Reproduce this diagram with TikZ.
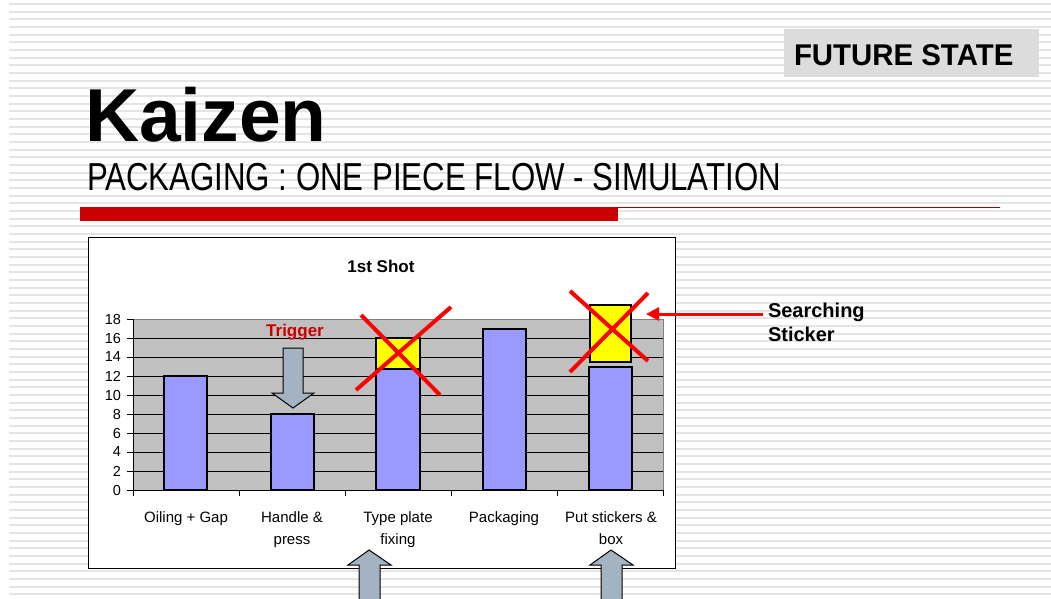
\documentclass[tikz,border=0pt]{standalone}
\usepackage{fontspec}
\setmainfont{Liberation Sans}
\newfontfamily\narrowsans[FakeStretch=0.8]{Liberation Sans}
\newfontfamily\semisans[FakeStretch=0.98]{Liberation Sans}
\usetikzlibrary{arrows.meta}

\definecolor{stripegray}{HTML}{E4E4E4}
\definecolor{barblue}{HTML}{9999FF}
\definecolor{plotgray}{HTML}{C0C0C0}
\definecolor{hiyellow}{HTML}{FFFF00}
\definecolor{rulered}{HTML}{CC0000}
\definecolor{thinred}{HTML}{A80000}
\definecolor{arrowfill}{HTML}{A3B3C2}
\definecolor{tagfill}{HTML}{DCDCDC}

\tikzset{
  stripe/.style={stripegray, line width=1.8},
  txt/.style={inner sep=0pt, outer sep=0pt},
  bar/.style={fill=barblue, draw=black, line width=1.1},
  extra/.style={fill=hiyellow, draw=black, line width=1.1},
  cross/.style={red, line width=4},
  grid line/.style={black, line width=0.8},
  blockarrow/.style={fill=arrowfill, draw=black, line width=1},
  ylab/.style={txt, anchor=east, font=\fontsize{14.5}{16}\selectfont},
  catlab/.style={txt, anchor=base, font=\fontsize{15}{17}\selectfont},
}

\begin{document}
\begin{tikzpicture}[x=1pt, y=-1pt]
  \useasboundingbox (0,0) rectangle (1051,598);
  \fill[white] (0,0) rectangle (1051,598);

  % striped slide background
  \foreach \k in {0,...,77}
    \draw[stripe] (9,{4+7.667*\k}) -- (1051,{4+7.667*\k});

  % state tag
  \fill[tagfill] (784,29) rectangle (1039,77);
  \node[txt, anchor=base west, font=\semisans\bfseries\fontsize{30}{32}\selectfont]
    (tag) at (794,65) {FUTURE STATE};

  % titles
  \node[txt, anchor=base west, font=\bfseries\fontsize{75}{80}\selectfont]
    (title) at (85,141) {Kaizen};
  \node[txt, anchor=base west, font=\narrowsans\fontsize{39}{42}\selectfont]
    (subtitle) at (87,190) {PACKAGING : ONE PIECE FLOW - SIMULATION};

  % title rule
  \fill[rulered] (80,207) rectangle (618,221);
  \draw[thinred, line width=1] (618,207.5) -- (1000,207.5);

  % chart frame
  \draw[black, line width=1, fill=white] (88,237) rectangle (675,568);
  \node[txt, anchor=base, font=\bfseries\fontsize{17}{19}\selectfont]
    (ctitle) at (381,272) {1st Shot};

  % plot area
  \fill[plotgray] (133,319) rectangle (663,490);
  \draw[gray, line width=0.8] (133,319) -- (663,319) -- (663,490);
  \foreach \v in {2,4,...,16}
    \draw[grid line] (133,{490-9.5*\v}) -- (663,{490-9.5*\v});

  % axes and ticks
  \draw[black, line width=0.9] (133,319) -- (133,490) -- (663,490);
  \foreach \v in {0,2,...,18}{
    \draw[black, line width=0.9] (127,{490-9.5*\v}) -- (133,{490-9.5*\v});
    \node[ylab] at (121,{490-9.5*\v}) {\v};
  }
  \foreach \x in {133,239,345,451,557,663}
    \draw[black, line width=0.9] (\x,490) -- (\x,496);

  % bars
  \draw[bar] (164,376) rectangle (207,490);
  \draw[bar] (271,414) rectangle (314,490);
  \draw[bar] (376,369) rectangle (420,490);
  \draw[bar] (483,329) rectangle (526,490);
  \draw[bar] (589,367) rectangle (632,490);

  % removed waiting time
  \draw[extra] (376,338) rectangle (420,369);
  \draw[extra] (590,305) rectangle (631,362);
  \draw[cross] (361,315) -- (440,395);
  \draw[cross] (451,307) -- (356,390);
  \draw[cross] (570,291) -- (648,361);
  \draw[cross] (648,293) -- (570,372);

  % category labels
  \node[catlab] (c1) at (186,522) {Oiling + Gap};
  \node[catlab] (c2a) at (292,522) {Handle \&};
  \node[catlab] (c2b) at (292,544) {press};
  \node[catlab] (c3a) at (398,522) {Type plate};
  \node[catlab] (c3b) at (398,544) {fixing};
  \node[catlab] (c4) at (504,522) {Packaging};
  \node[catlab] (c5a) at (611,522) {Put stickers \&};
  \node[catlab] (c5b) at (611,544) {box};

  % trigger
  \node[txt, anchor=base, text=rulered, font=\bfseries\fontsize{17}{19}\selectfont]
    (trig) at (295,336) {Trigger};
  \draw[blockarrow] (283,348) -- (303,348) -- (303,393) -- (314,393)
    -- (293,408) -- (272,393) -- (283,393) -- cycle;

  % block arrows under the chart
  \draw[blockarrow] (369,550) -- (391,565) -- (380,565) -- (380,600)
    -- (359,600) -- (359,565) -- (348,565) -- cycle;
  \draw[blockarrow] (611,550) -- (633,565) -- (622,565) -- (622,600)
    -- (601,600) -- (601,565) -- (590,565) -- cycle;

  % searching sticker callout
  \node[txt, anchor=base west, font=\bfseries\fontsize{20}{24}\selectfont]
    (srch1) at (768,317) {Searching};
  \node[txt, anchor=base west, font=\bfseries\fontsize{20}{24}\selectfont]
    (srch2) at (768,341) {Sticker};
  \coordinate (callstart) at (763,314);
  \coordinate (calltip) at (646,314);
  \draw[red, line width=3, -{Triangle[length=13pt,width=13pt]}] (callstart) -- (calltip);
\end{tikzpicture}
\end{document}
